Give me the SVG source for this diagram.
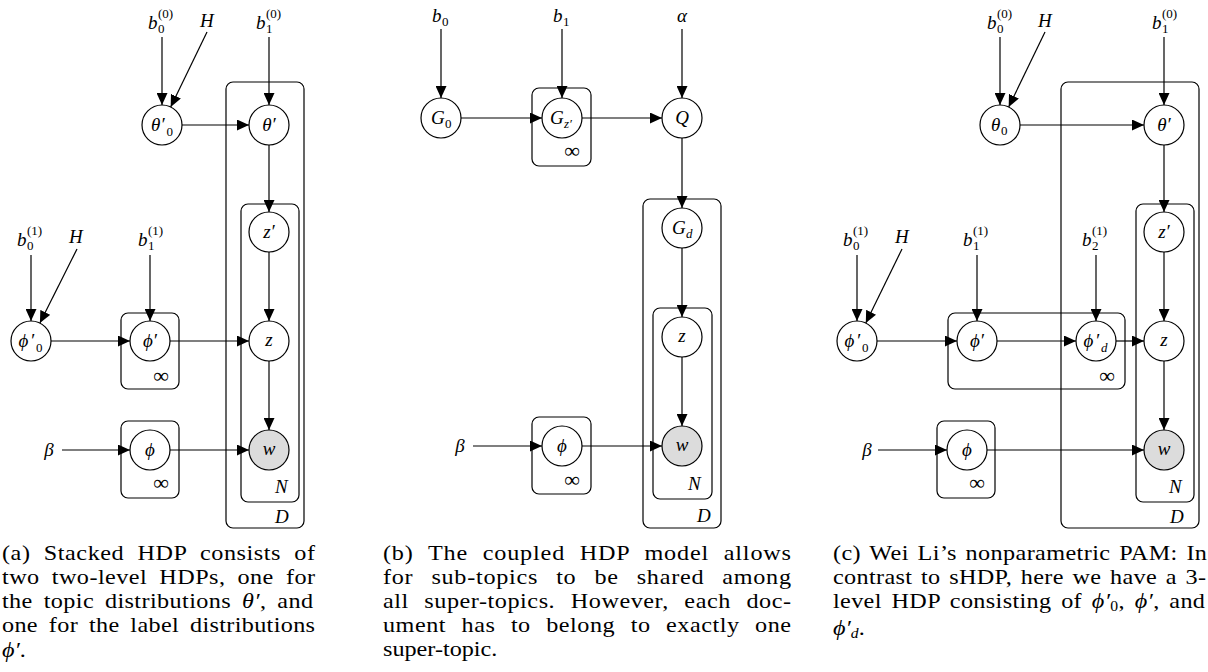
<svg xmlns="http://www.w3.org/2000/svg" width="1208" height="672" viewBox="0 0 1208 672">
<style>
.n{fill:#fff;stroke:#000;stroke-width:1.2}
.obs{fill:#dcdcdc}
.pl{fill:none;stroke:#000;stroke-width:1.2}
.e{stroke:#000;stroke-width:1.2;fill:none;marker-end:url(#ah)}
.m{font-family:"Liberation Serif","DejaVu Serif",serif;font-style:italic;font-size:19px;fill:#000}
.mc{text-anchor:middle}
.up{font-style:normal}
.s{font-size:13px}
.inf{font-family:"Liberation Serif","DejaVu Serif",serif;font-size:22px;text-anchor:middle}
.cap{font-family:"Liberation Serif","DejaVu Serif",serif;font-size:21.6px;fill:#000}
.ci{font-style:italic}
.cs{font-size:14px;font-style:normal}
.csi{font-size:14px;font-style:italic}
</style>
<defs>
<marker id="ah" viewBox="0 0 12 11" markerWidth="12" markerHeight="11" refX="12" refY="5.5" orient="auto" markerUnits="userSpaceOnUse"><path d="M0,0 L12,5.5 L0,11 z" fill="#000"/></marker>
</defs>
<rect width="1208" height="672" fill="#fff"/>

<!-- ================= Panel (a) ================= -->
<g id="a-plates">
<rect class="pl" x="226" y="82" width="78" height="446" rx="7"/>
<rect class="pl" x="241" y="204" width="58" height="298" rx="7"/>
<rect class="pl" x="121" y="313" width="58" height="76" rx="7"/>
<rect class="pl" x="121" y="421" width="58" height="77" rx="7"/>
<text class="m" x="275" y="523">D</text>
<text class="m" x="275" y="493">N</text>
<text class="inf" x="161" y="383">∞</text>
<text class="inf" x="161" y="490">∞</text>
</g>
<g id="a-connectors">
<line class="e" x1="162" y1="37" x2="162" y2="105"/>
<line class="e" x1="207" y1="32" x2="170.7" y2="107"/>
<line class="e" x1="269" y1="37" x2="269" y2="105"/>
<line class="e" x1="182" y1="125" x2="249" y2="125"/>
<line class="e" x1="269" y1="145" x2="269" y2="212"/>
<line class="e" x1="269" y1="252" x2="269" y2="321"/>
<line class="e" x1="31" y1="255" x2="31" y2="321"/>
<line class="e" x1="77" y1="249" x2="39.9" y2="323.1"/>
<line class="e" x1="150" y1="255" x2="150" y2="321"/>
<line class="e" x1="51" y1="341" x2="130" y2="341"/>
<line class="e" x1="170" y1="341" x2="249" y2="341"/>
<line class="e" x1="269" y1="361" x2="269" y2="430"/>
<line class="e" x1="62" y1="450" x2="130" y2="450"/>
<line class="e" x1="170" y1="450" x2="249" y2="450"/>
</g>
<g id="a-b00"><text class="m" x="148" y="29">b<tspan class="s up" x="158" y="18">(0)</tspan><tspan class="s up" x="158" y="33">0</tspan></text></g>
<g id="a-H0"><text class="m" x="200" y="27">H</text></g>
<g id="a-b10"><text class="m" x="256" y="29">b<tspan class="s up" x="266" y="18">(0)</tspan><tspan class="s up" x="266" y="33">1</tspan></text></g>
<g id="a-theta0"><circle class="n" cx="162" cy="125" r="20"/><text class="m" x="151" y="131">θ<tspan x="160.5" y="131">′</tspan><tspan class="s up" x="166.5" y="136">0</tspan></text></g>
<g id="a-theta"><circle class="n" cx="269" cy="125" r="20"/><text class="m mc" x="269" y="131">θ′</text></g>
<g id="a-zp"><circle class="n" cx="269" cy="232" r="20"/><text class="m mc" x="269" y="238">z′</text></g>
<g id="a-b01"><text class="m" x="17" y="246">b<tspan class="s up" x="27" y="235">(1)</tspan><tspan class="s up" x="27" y="250">0</tspan></text></g>
<g id="a-H1"><text class="m" x="69" y="243">H</text></g>
<g id="a-b11"><text class="m" x="138" y="246">b<tspan class="s up" x="148" y="235">(1)</tspan><tspan class="s up" x="148" y="250">1</tspan></text></g>
<g id="a-phi0"><circle class="n" cx="31" cy="341" r="20"/><text class="m" x="18.5" y="347">ϕ<tspan x="30" y="347">′</tspan><tspan class="s up" x="36" y="352">0</tspan></text></g>
<g id="a-phip"><circle class="n" cx="150" cy="341" r="20"/><text class="m mc" x="150" y="347">ϕ′</text></g>
<g id="a-z"><circle class="n" cx="269" cy="341" r="20"/><text class="m mc" x="269" y="346">z</text></g>
<g id="a-beta"><text class="m mc" x="49" y="456">β</text></g>
<g id="a-phi"><circle class="n" cx="150" cy="450" r="20"/><text class="m mc" x="150" y="456">ϕ</text></g>
<g id="a-w"><circle class="n obs" cx="269" cy="450" r="20"/><text class="m mc" x="269" y="455">w</text></g>

<!-- ================= Panel (b) ================= -->
<g id="b-plates">
<rect class="pl" x="532" y="88" width="59" height="78" rx="7"/>
<rect class="pl" x="643" y="199" width="78" height="329" rx="7"/>
<rect class="pl" x="653" y="308" width="59" height="191" rx="7"/>
<rect class="pl" x="532" y="417" width="59" height="77" rx="7"/>
<text class="m" x="697" y="522">D</text>
<text class="m" x="688" y="490">N</text>
<text class="inf" x="572" y="158">∞</text>
<text class="inf" x="572" y="487">∞</text>
</g>
<g id="b-connectors">
<line class="e" x1="441" y1="29" x2="441" y2="98"/>
<line class="e" x1="562" y1="29" x2="562" y2="98"/>
<line class="e" x1="682" y1="29" x2="682" y2="98"/>
<line class="e" x1="461" y1="118" x2="542" y2="118"/>
<line class="e" x1="582" y1="118" x2="662" y2="118"/>
<line class="e" x1="682" y1="138" x2="682" y2="208"/>
<line class="e" x1="682" y1="248" x2="682" y2="317"/>
<line class="e" x1="682" y1="357" x2="682" y2="426"/>
<line class="e" x1="473" y1="446" x2="542" y2="446"/>
<line class="e" x1="582" y1="446" x2="662" y2="446"/>
</g>
<g id="b-b0"><text class="m" x="432" y="22">b<tspan class="s up" x="442" y="26">0</tspan></text></g>
<g id="b-b1"><text class="m" x="553" y="22">b<tspan class="s up" x="563" y="26">1</tspan></text></g>
<g id="b-alpha"><text class="m mc" x="682" y="22">α</text></g>
<g id="b-G0"><circle class="n" cx="441" cy="118" r="20"/><text class="m" x="431" y="124">G<tspan class="s up" x="445" y="128">0</tspan></text></g>
<g id="b-Gz"><circle class="n" cx="562" cy="118" r="20"/><text class="m" x="550" y="124">G<tspan class="s" x="564" y="128">z′</tspan></text></g>
<g id="b-Q"><circle class="n" cx="682" cy="118" r="20"/><text class="m mc" x="682" y="124">Q</text></g>
<g id="b-Gd"><circle class="n" cx="682" cy="228" r="20"/><text class="m" x="672" y="234">G<tspan class="s" x="686" y="238">d</tspan></text></g>
<g id="b-z"><circle class="n" cx="682" cy="337" r="20"/><text class="m mc" x="682" y="342">z</text></g>
<g id="b-beta"><text class="m mc" x="460" y="452">β</text></g>
<g id="b-phi"><circle class="n" cx="562" cy="446" r="20"/><text class="m mc" x="562" y="452">ϕ</text></g>
<g id="b-w"><circle class="n obs" cx="682" cy="446" r="20"/><text class="m mc" x="682" y="451">w</text></g>

<!-- ================= Panel (c) ================= -->
<g id="c-plates">
<rect class="pl" x="1061" y="82" width="138" height="446" rx="7"/>
<rect class="pl" x="1136" y="204" width="58" height="298" rx="7"/>
<rect class="pl" x="948" y="313" width="177" height="76" rx="7"/>
<rect class="pl" x="937" y="421" width="58" height="77" rx="7"/>
<text class="m" x="1170" y="523">D</text>
<text class="m" x="1169" y="493">N</text>
<text class="inf" x="1107" y="383">∞</text>
<text class="inf" x="977" y="490">∞</text>
</g>
<g id="c-connectors">
<line class="e" x1="1000" y1="37" x2="1000" y2="105"/>
<line class="e" x1="1045" y1="32" x2="1008.7" y2="107"/>
<line class="e" x1="1164" y1="37" x2="1164" y2="105"/>
<line class="e" x1="1020" y1="125" x2="1144" y2="125"/>
<line class="e" x1="1164" y1="145" x2="1164" y2="212"/>
<line class="e" x1="1164" y1="252" x2="1164" y2="321"/>
<line class="e" x1="857" y1="255" x2="857" y2="321"/>
<line class="e" x1="902" y1="249" x2="865.8" y2="323"/>
<line class="e" x1="977" y1="255" x2="977" y2="321"/>
<line class="e" x1="1096" y1="255" x2="1096" y2="321"/>
<line class="e" x1="877" y1="341" x2="957" y2="341"/>
<line class="e" x1="997" y1="341" x2="1076" y2="341"/>
<line class="e" x1="1116" y1="341" x2="1144" y2="341"/>
<line class="e" x1="1164" y1="361" x2="1164" y2="430"/>
<line class="e" x1="878" y1="450" x2="947" y2="450"/>
<line class="e" x1="987" y1="450" x2="1144" y2="450"/>
</g>
<g id="c-b00"><text class="m" x="987" y="29">b<tspan class="s up" x="997" y="18">(0)</tspan><tspan class="s up" x="997" y="33">0</tspan></text></g>
<g id="c-H0"><text class="m" x="1038" y="27">H</text></g>
<g id="c-b10"><text class="m" x="1152" y="29">b<tspan class="s up" x="1162" y="18">(0)</tspan><tspan class="s up" x="1162" y="33">1</tspan></text></g>
<g id="c-theta0"><circle class="n" cx="1000" cy="125" r="20"/><text class="m" x="991" y="131">θ<tspan class="s up" x="1001" y="135">0</tspan></text></g>
<g id="c-theta"><circle class="n" cx="1164" cy="125" r="20"/><text class="m mc" x="1164" y="131">θ′</text></g>
<g id="c-zp"><circle class="n" cx="1164" cy="232" r="20"/><text class="m mc" x="1164" y="238">z′</text></g>
<g id="c-b01"><text class="m" x="843" y="246">b<tspan class="s up" x="853" y="235">(1)</tspan><tspan class="s up" x="853" y="250">0</tspan></text></g>
<g id="c-H1"><text class="m" x="895" y="243">H</text></g>
<g id="c-b11"><text class="m" x="963" y="246">b<tspan class="s up" x="973" y="235">(1)</tspan><tspan class="s up" x="973" y="250">1</tspan></text></g>
<g id="c-b21"><text class="m" x="1082" y="246">b<tspan class="s up" x="1092" y="235">(1)</tspan><tspan class="s up" x="1092" y="250">2</tspan></text></g>
<g id="c-phi0"><circle class="n" cx="857" cy="341" r="20"/><text class="m" x="844.5" y="347">ϕ<tspan x="856" y="347">′</tspan><tspan class="s up" x="862" y="352">0</tspan></text></g>
<g id="c-phip"><circle class="n" cx="977" cy="341" r="20"/><text class="m mc" x="977" y="347">ϕ′</text></g>
<g id="c-phid"><circle class="n" cx="1096" cy="341" r="20"/><text class="m" x="1083.5" y="347">ϕ<tspan x="1095" y="347">′</tspan><tspan class="s" x="1101" y="352">d</tspan></text></g>
<g id="c-z"><circle class="n" cx="1164" cy="341" r="20"/><text class="m mc" x="1164" y="346">z</text></g>
<g id="c-beta"><text class="m mc" x="867" y="456">β</text></g>
<g id="c-phi"><circle class="n" cx="967" cy="450" r="20"/><text class="m mc" x="967" y="456">ϕ</text></g>
<g id="c-w"><circle class="n obs" cx="1164" cy="450" r="20"/><text class="m mc" x="1164" y="455">w</text></g>

<!-- ================= Captions ================= -->
<g id="caption-a" class="cap" transform="translate(2,0) scale(1.12,1)">
<text x="0" y="560" word-spacing="6" textLength="279.5" lengthAdjust="spacing">(a) Stacked HDP consists of</text>
<text x="0" y="584" word-spacing="5" textLength="279.5" lengthAdjust="spacing">two two-level HDPs, one for</text>
<text x="0" y="608" word-spacing="4" textLength="277.7" lengthAdjust="spacing">the topic distributions <tspan class="ci">θ′</tspan>, and</text>
<text x="0" y="632" word-spacing="4" textLength="279.5" lengthAdjust="spacing">one for the label distributions</text>
<text x="0" y="657"><tspan class="ci">ϕ′</tspan>.</text>
</g>
<g id="caption-b" class="cap" transform="translate(383,0) scale(1.12,1)">
<text x="0" y="560" word-spacing="7" textLength="364.3" lengthAdjust="spacing">(b) The coupled HDP model allows</text>
<text x="0" y="584" word-spacing="10" textLength="364.3" lengthAdjust="spacing">for sub-topics to be shared among</text>
<text x="0" y="608" word-spacing="8" textLength="364.3" lengthAdjust="spacing">all super-topics. However, each doc-</text>
<text x="0" y="632" word-spacing="8" textLength="364.3" lengthAdjust="spacing">ument has to belong to exactly one</text>
<text x="0" y="656">super-topic.</text>
</g>
<g id="caption-c" class="cap" transform="translate(833,0) scale(1.12,1)">
<text x="0" y="560" word-spacing="2" textLength="333.9" lengthAdjust="spacing">(c) Wei Li’s nonparametric PAM: In</text>
<text x="0" y="584" word-spacing="2" textLength="333" lengthAdjust="spacing">contrast to sHDP, here we have a 3-</text>
<text x="0" y="608" word-spacing="3" textLength="332.1" lengthAdjust="spacing">level HDP consisting of <tspan class="ci">ϕ′</tspan><tspan class="cs" dy="3">0</tspan><tspan dy="-3">, </tspan><tspan class="ci">ϕ′</tspan>, and</text>
<text x="0" y="635"><tspan class="ci">ϕ′</tspan><tspan class="csi" dy="3">d</tspan><tspan dy="-3">.</tspan></text>
</g>
</svg>
